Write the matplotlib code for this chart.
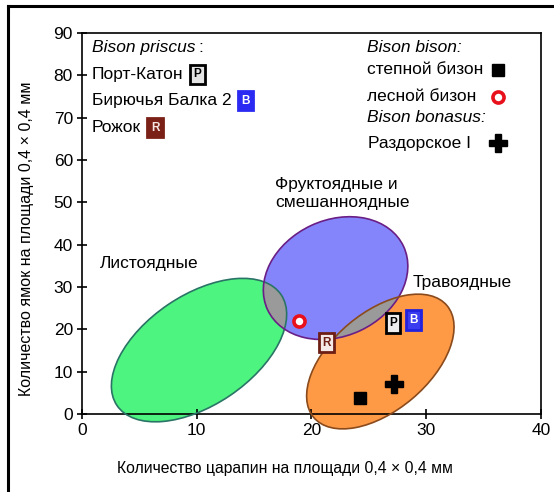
import matplotlib
matplotlib.use("Agg")
import matplotlib.pyplot as plt
from matplotlib.patches import Ellipse
from matplotlib.lines import Line2D
from matplotlib.transforms import ScaledTranslation

plt.rcParams["font.family"] = ["Liberation Sans", "DejaVu Sans"]

# diet zones: centre (data units), size (inches), tilt (deg)
zone_names = ["Листоядные", "Фруктоядные и\nсмешанноядные", "Травоядные"]
zone_cx = [10.2, 22.1, 26.0]
zone_cy = [15.1, 32.1, 12.4]
zone_w = [1.98, 1.5, 1.74]
zone_h = [1.1, 1.16, 0.98]
zone_angle = [34, 25, 40]
zone_fill = ["#4df47f", "#8585fb", "#fe9a45"]
zone_edge = ["#2a7466", "#6a1f86", "#8a4a1c"]

# Bison priscus sites (scratches, pits)
site_labels = ["P", "B", "R"]
site_names = ["Порт-Катон", "Бирючья Балка 2", "Рожок"]
site_x = [27.1, 28.9, 21.3]
site_y = [21.5, 22.2, 16.8]

# modern reference groups
steppe_x, steppe_y = [24.2], [3.8]
forest_x, forest_y = [18.9], [22.0]
razd_x, razd_y = [27.2], [7.1]

fig = plt.figure(figsize=(5.54, 4.92), dpi=100)
ax = fig.add_axes([0.148, 0.1585, 0.8285, 0.7745])
ax.set_xlim(0, 40)
ax.set_ylim(0, 90)

def make_ellipse(i, **kw):
    tr = fig.dpi_scale_trans + ScaledTranslation(zone_cx[i], zone_cy[i], ax.transData)
    return Ellipse((0, 0), zone_w[i], zone_h[i], angle=zone_angle[i], transform=tr, **kw)

for i in range(3):
    ax.add_patch(make_ellipse(i, facecolor=zone_fill[i], edgecolor="none", zorder=1,
                              clip_on=False))

# grey overlaps
for a, b in [(0, 1), (1, 2)]:
    clip = make_ellipse(b)
    g = make_ellipse(a, facecolor="#9a9a9a", edgecolor="none", zorder=2)
    ax.add_patch(g)
    g.set_clip_path(clip)

for i in range(3):
    ax.add_patch(make_ellipse(i, facecolor="none", edgecolor=zone_edge[i], lw=1.2, zorder=3,
                              clip_on=False))

fs = 12.5
ax.text(0.039, 0.396, zone_names[0], transform=ax.transAxes, fontsize=fs, va="center")
ax.text(0.42, 0.579, zone_names[1], transform=ax.transAxes, fontsize=fs, va="center")
ax.text(0.721, 0.344, zone_names[2], transform=ax.transAxes, fontsize=fs, va="center")

box_style = {
    "P": dict(fc="#e4e4e4", ec="black", color="black"),
    "B": dict(fc="#2a2af2", ec="#2a2af2", color="white"),
    "R": dict(fc="#7a2016", ec="#7a2016", color="#f6e2e0"),
}
plot_box_style = {
    "P": dict(fc="#eeeeee", ec="black", color="black"),
    "B": dict(fc="#3b3bf0", ec="#2222dd", color="white"),
    "R": dict(fc="#f4e9e6", ec="#6e1e14", color="#6e1e14"),
}

for x, y, lab in zip(site_x, site_y, site_labels):
    s = plot_box_style[lab]
    ax.annotate(lab, (x, y), fontsize=8.5, fontweight="bold", color=s["color"],
                ha="center", va="center", zorder=6,
                bbox=dict(boxstyle="square,pad=0.3", fc=s["fc"], ec=s["ec"], lw=2))

ax.plot(steppe_x, steppe_y, "s", color="black", ms=9, zorder=6)
ax.plot(forest_x, forest_y, "o", mfc="white", mec="#e8101a", mew=2.6, ms=8, zorder=6)
ax.plot(razd_x, razd_y, "P", color="black", ms=12.5, zorder=6)

# legend, left block
t = ax.text(0.0218, 0.961, "Bison priscus", style="italic", transform=ax.transAxes,
            fontsize=fs, va="center")
ax.annotate(":", xy=(1, 0.5), xycoords=t, xytext=(2, 0), textcoords="offset points",
            fontsize=fs, va="center")
for name, lab, yy in zip(site_names, site_labels, [0.892, 0.822, 0.751]):
    t = ax.text(0.0218, yy, name, transform=ax.transAxes, fontsize=fs, va="center")
    s = box_style[lab]
    ax.annotate(lab, xy=(1, 0.5), xycoords=t, xytext=(10, 0), textcoords="offset points",
                fontsize=8.5, fontweight="bold", color=s["color"], ha="center", va="center",
                bbox=dict(boxstyle="square,pad=0.3", fc=s["fc"], ec=s["ec"], lw=2))

# legend, right block
lx, mx = 0.621, 0.906
ax.text(lx, 0.963, "Bison bison:", style="italic", transform=ax.transAxes, fontsize=fs, va="center")
ax.text(lx, 0.903, "степной бизон", transform=ax.transAxes, fontsize=fs, va="center")
ax.text(lx, 0.832, "лесной бизон", transform=ax.transAxes, fontsize=fs, va="center")
ax.text(lx, 0.777, "Bison bonasus:", style="italic", transform=ax.transAxes, fontsize=fs, va="center")
ax.text(lx + 0.002, 0.711, "Раздорское I", transform=ax.transAxes, fontsize=fs, va="center")
ax.plot([mx], [0.903], "s", color="black", ms=9, transform=ax.transAxes)
ax.plot([mx], [0.832], "o", mfc="white", mec="#e8101a", mew=2.6, ms=8, transform=ax.transAxes)
ax.plot([mx], [0.711], "P", color="black", ms=12.5, transform=ax.transAxes)

ax.set_xticks([0, 10, 20, 30, 40])
ax.set_yticks(range(0, 91, 10))
ax.tick_params(direction="inout", length=7, width=1.2, labelsize=12.5, pad=3,
               top=False, right=False)
for sp in ax.spines.values():
    sp.set_linewidth(1.2)

ax.set_xlabel("Количество царапин на площади 0,4 × 0,4 мм", fontsize=11.3, va="center")
ax.set_ylabel("Количество ямок на площади 0,4 × 0,4 мм", fontsize=11.5, va="center")
ax.xaxis.set_label_coords(0.442, -0.142)
ax.yaxis.set_label_coords(-0.12, 0.459)

# outer frame (top and left edges only visible)
fig.add_artist(Line2D([8 / 554, 8 / 554], [0, 1 - 6 / 492], color="black", lw=2.2))
fig.add_artist(Line2D([8 / 554, 1], [1 - 6 / 492, 1 - 6 / 492], color="black", lw=2.2))

fig.savefig("out.png", dpi=100)
